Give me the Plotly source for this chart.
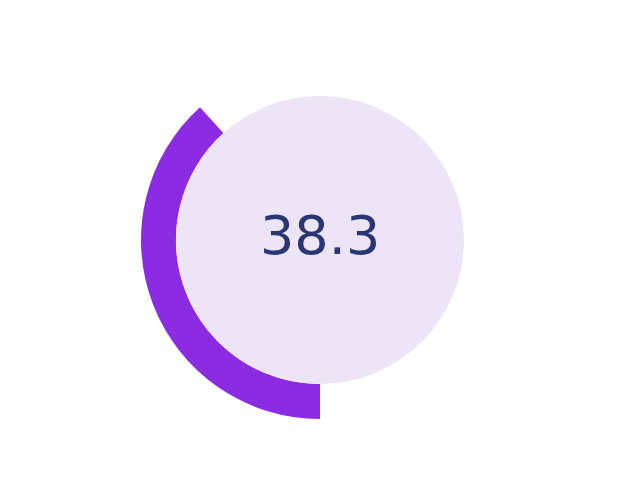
import plotly.graph_objects as go

# gauge value (percent)
value = 38.3
labels = ['value', 'rest']
values = [value, 100 - value]
colors = ['#8C2CE2', 'rgba(0,0,0,0)']

fig = go.Figure()

fig.add_trace(
    go.Pie(
        labels=labels,
        values=values,
        hole=0.805,
        rotation=180,
        direction='clockwise',
        sort=False,
        textinfo='none',
        hoverinfo='skip',
        showlegend=False,
        marker={'colors': colors, 'line': {'width': 0}},
    )
)

layout = {
    'width': 624,
    'height': 464,
    'margin': {'l': 72, 'r': 72, 't': 53, 'b': 53},
    'paper_bgcolor': 'white',
    'plot_bgcolor': 'white',
    'shapes': [
        {
            'type': 'circle',
            'xref': 'paper',
            'yref': 'paper',
            'x0': 0.2,
            'x1': 0.8,
            'y0': 35 / 358,
            'y1': 323 / 358,
            'fillcolor': '#EDE4F6',
            'line': {'width': 0},
            'layer': 'above',
        }
    ],
    'annotations': [
        {
            'text': f"{value}",
            'x': 0.5,
            'y': 0.5,
            'xref': 'paper',
            'yref': 'paper',
            'yshift': 5,
            'showarrow': False,
            'font': {'family': 'DejaVu Sans', 'size': 54, 'color': '#283673'},
        }
    ],
}

fig.update_layout(layout)

fig.write_html("out.html")
